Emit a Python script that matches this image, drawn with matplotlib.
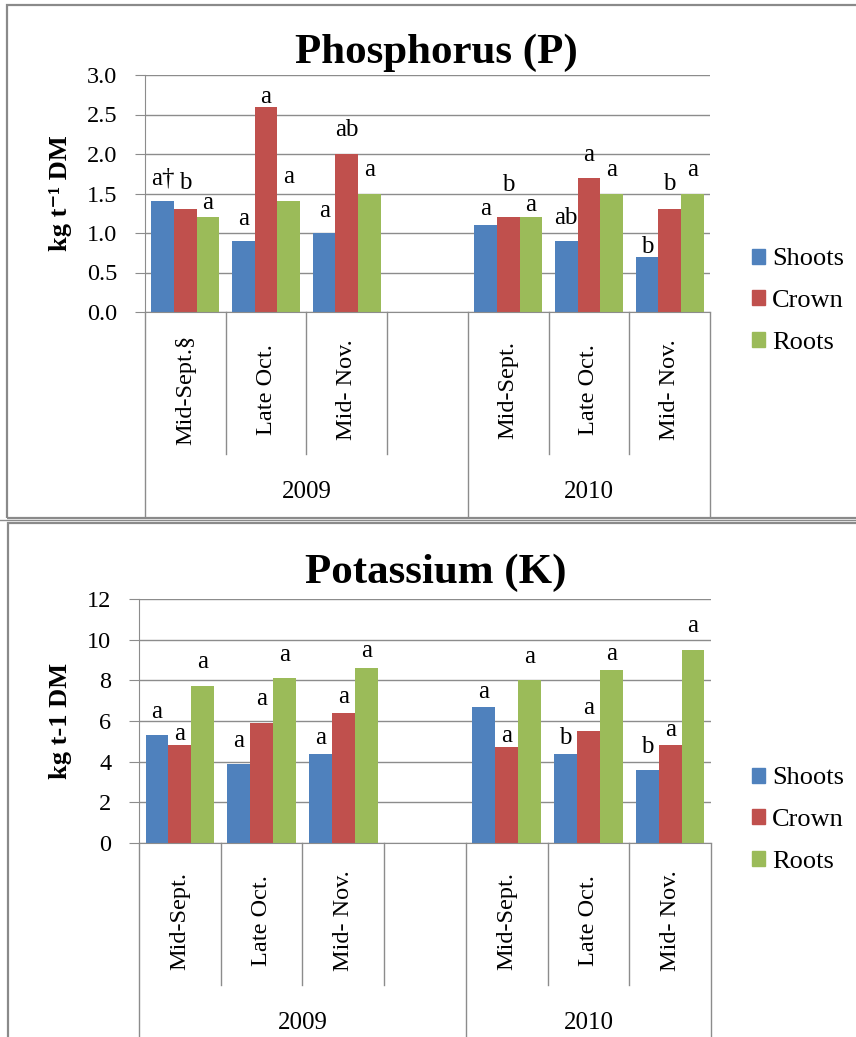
import matplotlib.pyplot as plt
import matplotlib.transforms as mtransforms
from matplotlib.patches import Patch, Rectangle

plt.rcParams['font.family'] = ['Liberation Serif', 'DejaVu Serif']

# sampling dates, two seasons with an empty slot between them
dates_2009 = ['Mid-Sept.§', 'Late Oct.', 'Mid- Nov.']
dates_2010 = ['Mid-Sept.', 'Late Oct.', 'Mid- Nov.']
dates_k = ['Mid-Sept.', 'Late Oct.', 'Mid- Nov.']
years = ['2009', '2010']
parts = ['Shoots', 'Crown', 'Roots']
colors = ['#4F81BD', '#C0504D', '#9BBB59']

# phosphorus, kg t-1 DM (2009 x3, 2010 x3)
p_shoots = [1.4, 0.9, 1.0, 1.1, 0.9, 0.7]
p_crown = [1.3, 2.6, 2.0, 1.2, 1.7, 1.3]
p_roots = [1.2, 1.4, 1.5, 1.2, 1.5, 1.5]
p_letters = [['a†', 'a', 'a', 'a', 'ab', 'b'],
             ['b', 'a', 'ab', 'b', 'a', 'b'],
             ['a', 'a', 'a', 'a', 'a', 'a']]

# potassium, kg t-1 DM
k_shoots = [5.3, 3.9, 4.4, 6.7, 4.4, 3.6]
k_crown = [4.8, 5.9, 6.4, 4.7, 5.5, 4.8]
k_roots = [7.7, 8.1, 8.6, 8.0, 8.5, 9.5]
k_letters = [['a', 'a', 'a', 'a', 'b', 'b'],
             ['a', 'a', 'a', 'a', 'a', 'a'],
             ['a', 'a', 'a', 'a', 'a', 'a']]

# how far each letter sits above its bar (pixels)
p_lift = [[23, 22, 22, 16, 23, 10],
          [26, 10, 24, 32, 23, 25],
          [14, 24, 23, 12, 23, 23]]
k_lift = [[23, 23, 16, 15, 16, 23],
          [11, 24, 16, 11, 23, 15],
          [24, 23, 17, 23, 16, 24]]

slots = [0, 1, 2, 4, 5, 6]
W, H = 856, 1037
GRID = '#8c8c8c'

fig = plt.figure(figsize=(W / 100, H / 100), dpi=100)

# panel frames
fig.patches.append(Rectangle((7 / W, 1 - 518 / H), 860 / W, 513 / H, transform=fig.transFigure,
                             fill=False, ec='#8a8a8a', lw=1.6))
fig.patches.append(Rectangle((8 / W, 1 - 1045 / H), 860 / W, 522 / H, transform=fig.transFigure,
                             fill=False, ec='#8a8a8a', lw=1.6))
fig.lines.append(plt.Line2D([0, 1], [1 - 520 / H] * 2, transform=fig.transFigure, color='#8a8a8a', lw=1))


def panel(left, right, top, bottom, series, letters, lifts, ymax, ystep, fmt,
          labels_a, labels_b, title, title_base, ylab, leg_y):
    ax = fig.add_axes([left / W, 1 - bottom / H, (right - left) / W, (bottom - top) / H])
    h = bottom - top
    width = 0.28
    for i, vals in enumerate(series):
        xs = [s + (i - 1) * width for s in slots]
        ax.bar(xs, vals, width, color=colors[i], label=parts[i], zorder=2)
        for x, v, lt, lf in zip(xs, vals, letters[i], lifts[i]):
            ax.annotate(lt, (x, v), xytext=(0, lf), textcoords='offset pixels',
                        ha='center', va='center', fontsize=18)
    ax.set_xlim(-0.5, 6.5)
    ax.set_ylim(0, ymax)
    ticks = [ystep * k for k in range(int(round(ymax / ystep)) + 1)]
    ax.set_yticks(ticks)
    ax.set_yticklabels([fmt.format(t) for t in ticks], fontsize=17.5)
    ax.set_xticks([])
    ax.yaxis.grid(True, color=GRID, lw=1)
    ax.set_axisbelow(True)
    for s in ['top', 'right']:
        ax.spines[s].set_visible(False)
    for s in ['left', 'bottom']:
        ax.spines[s].set_color(GRID)
    ax.tick_params(axis='y', length=7, color=GRID, pad=13)

    # category dividers below the axis
    tr = mtransforms.blended_transform_factory(ax.transData, ax.transAxes)
    for x in [-0.5, 0.5, 1.5, 2.5, 3.5, 4.5, 5.5, 6.5]:
        drop = 205 if x in (-0.5, 3.5, 6.5) else 142
        ax.plot([x, x], [0, -drop / h], transform=tr, color=GRID, lw=1, clip_on=False)
    for s, lab in zip(slots, labels_a + labels_b):
        ax.text(s, -78 / h, lab, transform=tr, rotation=90, ha='center', va='center', fontsize=17.5)
    for x, yr in zip([1.5, 5.0], years):
        ax.text(x, -180 / h, yr, transform=tr, ha='center', va='center', fontsize=18)

    fig.text(436 / W, 1 - title_base / H, title, ha='center', va='baseline',
             fontsize=31, fontweight='bold')
    ax.text(61 / W, 0.5, ylab, transform=mtransforms.blended_transform_factory(fig.transFigure, ax.transAxes),
            rotation=90, ha='center', va='center', fontsize=19, fontweight='bold')

    handles = [Patch(color=c) for c in colors]
    fig.legend(handles, parts, loc='center left', bbox_to_anchor=(741 / W, 1 - leg_y / H),
               frameon=False, fontsize=19, handlelength=0.5, handleheight=0.5,
               handletextpad=0.27, labelspacing=0.74, borderaxespad=0)
    return ax


panel(145, 710, 75, 312, [p_shoots, p_crown, p_roots], p_letters, p_lift, 3.0, 0.5, '{:.1f}',
      dates_2009, dates_2010, 'Phosphorus (P)', 63, 'kg t⁻¹ DM', 301)
panel(139, 711, 599, 843, [k_shoots, k_crown, k_roots], k_letters, k_lift, 12, 2, '{:.0f}',
      dates_k, dates_k, 'Potassium (K)', 583, 'kg t-1 DM', 820)

fig.savefig('out.png', dpi=100)
